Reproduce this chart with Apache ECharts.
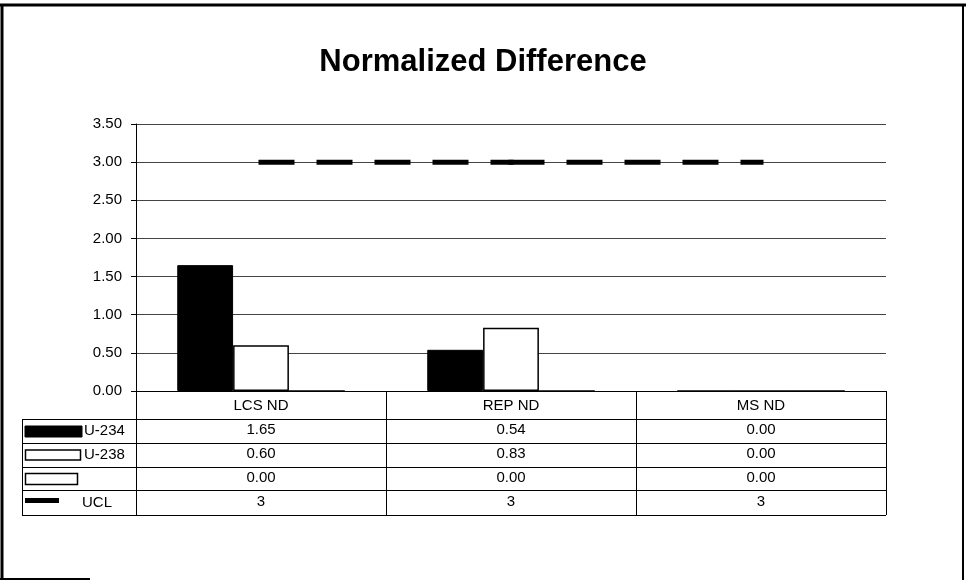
<!DOCTYPE html>
<html>
<head>
<meta charset="utf-8">
<script src="https://cdn.jsdelivr.net/npm/echarts@6/dist/echarts.min.js"></script>
<style>
  html, body { margin: 0; padding: 0; background: #fff; }
  #chart { width: 966px; height: 581px; }
</style>
</head>
<body>
<div id="chart"></div>
<script>
// Categories and series values
const categories = ['LCS ND', 'REP ND', 'MS ND'];
const u234 = [1.65, 0.54, 0.00];
const u238 = [0.60, 0.83, 0.00];
const blankSeries = [0.00, 0.00, 0.00];
const ucl = [3, 3, 3];
const yTicks = [0, 0.5, 1, 1.5, 2, 2.5, 3, 3.5];

const FONT = '"Liberation Sans", Arial, sans-serif';
const chart = echarts.init(document.getElementById('chart'), null, { renderer: 'canvas' });

const gridBox = { left: 136, right: 80, top: 124, bottom: 190 };

// The UCL line is drawn per category segment so its dash pattern restarts at each point
const uclStyle = { color: '#000', width: 5, type: [31, 27], cap: 'square' };
const uclSegments = ucl.slice(0, -1).map((_, s) => ({
  name: 'UCL', type: 'line',
  data: ucl.map((v, i) => (i === s || i === s + 1) ? v : null),
  symbol: 'none', connectNulls: false,
  lineStyle: uclStyle, z: 5
}));

chart.setOption({
  backgroundColor: '#fff',
  animation: false,
  title: {
    text: 'Normalized Difference',
    left: 'center',
    top: 42,
    textStyle: { fontFamily: FONT, fontSize: 31, fontWeight: 'bold', color: '#000' }
  },
  grid: gridBox,
  xAxis: {
    type: 'category',
    data: categories,
    boundaryGap: true,
    axisLine: { show: true, lineStyle: { color: '#000', width: 1 } },
    axisTick: { show: false },
    axisLabel: { show: false },
    splitLine: { show: false }
  },
  yAxis: {
    type: 'value',
    min: yTicks[0],
    max: yTicks[yTicks.length - 1],
    interval: 0.5,
    axisLine: { show: true, lineStyle: { color: '#000', width: 1 } },
    axisTick: { show: true, length: 5, lineStyle: { color: '#000' } },
    axisLabel: {
      formatter: v => v.toFixed(2),
      fontFamily: FONT, fontSize: 15, color: '#000', margin: 14
    },
    splitLine: { show: true, lineStyle: { color: '#444', width: 1 } }
  },
  series: [
    {
      name: 'U-234', type: 'bar', data: u234,
      barGap: '0%', barCategoryGap: '33%',
      itemStyle: { color: '#000', borderColor: '#000', borderWidth: 1 }
    },
    {
      name: 'U-238', type: 'bar', data: u238,
      itemStyle: { color: '#fff', borderColor: '#000', borderWidth: 1.5 }
    },
    {
      name: '', type: 'bar', data: blankSeries,
      itemStyle: { color: '#fff', borderColor: '#000', borderWidth: 1 }
    }
  ].concat(uclSegments)
});

// Data table below the plot, aligned to category columns
function drawTable() {
  const plotRight = 966 - gridBox.right;
  const axisY = 581 - gridBox.bottom;
  const keyLeft = 22;
  const rowEdges = [axisY, 419, 443, 467, 490, 515];
  const centers = categories.map((c, i) => chart.convertToPixel({ xAxisIndex: 0 }, i));
  const step = centers.length > 1 ? centers[1] - centers[0] : plotRight - gridBox.left;
  const colEdges = [centers[0] - step / 2].concat(centers.map(c => c + step / 2));

  const els = [];
  const line = (x1, y1, x2, y2, w) => els.push({
    type: 'line', silent: true,
    shape: { x1, y1, x2, y2 },
    style: { stroke: '#000', lineWidth: w || 1 }
  });
  const text = (t, x, y, align) => els.push({
    type: 'text', silent: true,
    style: {
      text: t, x, y, fill: '#000', font: '15px ' + FONT,
      textAlign: align || 'center', textVerticalAlign: 'middle'
    }
  });

  // horizontal rules
  for (let r = 1; r < rowEdges.length; r++) {
    line(keyLeft, rowEdges[r] + 0.5, colEdges[colEdges.length - 1], rowEdges[r] + 0.5);
  }
  // vertical rules
  colEdges.forEach(x => line(Math.round(x) + 0.5, axisY, Math.round(x) + 0.5, rowEdges[5]));
  line(keyLeft + 0.5, rowEdges[1], keyLeft + 0.5, rowEdges[5]);

  // header
  categories.forEach((c, i) => text(c, centers[i], (rowEdges[0] + rowEdges[1]) / 2 + 1));

  const rows = [
    { name: 'U-234', values: u234, fmt: v => v.toFixed(2) },
    { name: 'U-238', values: u238, fmt: v => v.toFixed(2) },
    { name: '', values: blankSeries, fmt: v => v.toFixed(2) },
    { name: 'UCL', values: ucl, fmt: v => String(v) }
  ];
  rows.forEach((row, r) => {
    const yMid = (rowEdges[r + 1] + rowEdges[r + 2]) / 2;
    row.values.forEach((v, i) => text(row.fmt(v), centers[i], yMid - 1));
  });

  // legend keys
  const y1 = (rowEdges[1] + rowEdges[2]) / 2;
  const y2 = (rowEdges[2] + rowEdges[3]) / 2;
  const y3 = (rowEdges[3] + rowEdges[4]) / 2;
  const y4 = (rowEdges[4] + rowEdges[5]) / 2;
  els.push({ type: 'rect', silent: true, shape: { x: 25, y: y1 - 5, width: 57, height: 11 },
    style: { fill: '#000', stroke: '#000', lineWidth: 1 } });
  text(rows[0].name, 84, y1, 'left');
  els.push({ type: 'rect', silent: true, shape: { x: 25.5, y: y2 - 5, width: 55, height: 10 },
    style: { fill: '#fff', stroke: '#000', lineWidth: 1.5 } });
  text(rows[1].name, 84, y2, 'left');
  els.push({ type: 'rect', silent: true, shape: { x: 25.5, y: y3 - 5, width: 52, height: 11 },
    style: { fill: '#fff', stroke: '#000', lineWidth: 1.5 } });
  line(25, y4 - 2, 59, y4 - 2, 5);
  text(rows[3].name, 82, y4, 'left');

  // outer frame
  line(0, 5, 966, 5, 3);
  line(2, 4, 2, 580, 3);
  line(963, 4, 963, 580, 2);
  line(0, 579, 90, 579, 2);

  chart.setOption({ graphic: { elements: els } });
}
drawTable();
</script>
</body>
</html>
